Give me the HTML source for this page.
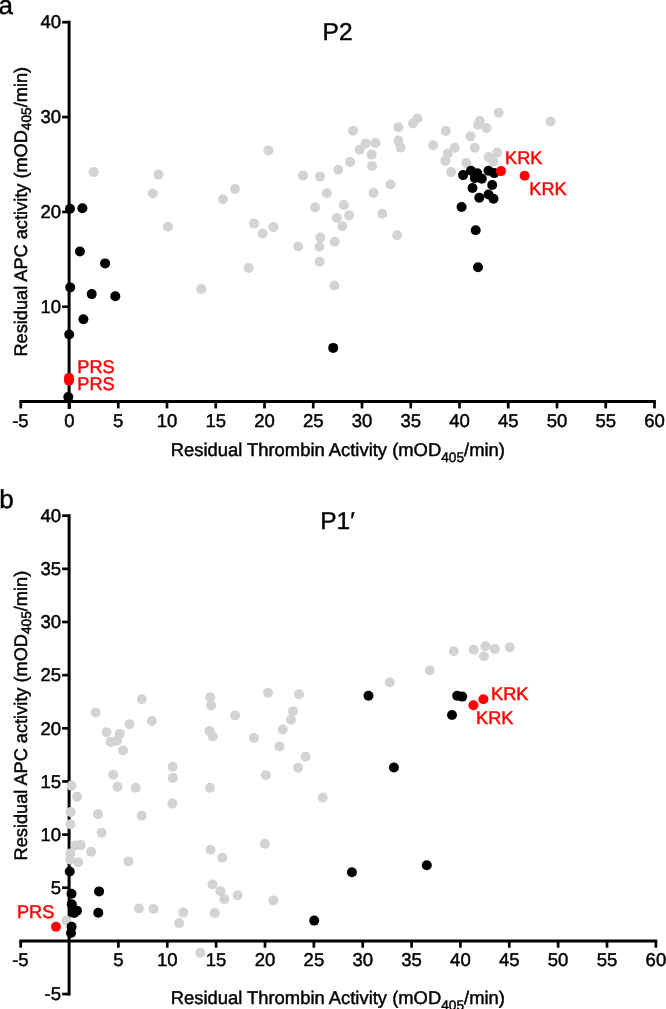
<!DOCTYPE html>
<html><head><meta charset="utf-8"><title>Figure</title>
<style>
html,body{margin:0;padding:0;background:#fff}
svg{display:block;will-change:transform}
text{font-family:"Liberation Sans",sans-serif;fill:#000;stroke:#000;stroke-width:0.45px;text-rendering:geometricPrecision}
.tk{font-size:18.5px}
.lab{font-size:18.4px}
.pt{font-size:18.2px;fill:#ff0000;stroke:#ff0000}
.ti{font-size:24.5px}
.pn{font-size:26px}
.ax{stroke:#000;stroke-width:3.0;fill:none;stroke-linecap:butt}
.t{stroke:#000;stroke-width:2.7;fill:none}
</style></head><body>
<svg width="666" height="1009" viewBox="0 0 666 1009">
<rect width="666" height="1009" fill="#fff"/>

<!-- panel a -->
<text class="pn" x="-1.4" y="14.2">a</text>
<text class="ti" x="322.6" y="39.8">P2</text>
<path class="ax" d="M69.1 20.85V409.0"/>
<path class="ax" d="M19.4 401.6H655.85"/>
<path class="t" d="M62.1 306.75H69.1"/>
<text class="tk" text-anchor="end" x="61" y="312.9">10</text>
<path class="t" d="M62.1 211.9H69.1"/>
<text class="tk" text-anchor="end" x="61" y="218.1">20</text>
<path class="t" d="M62.1 117.05H69.1"/>
<text class="tk" text-anchor="end" x="61" y="123.3">30</text>
<path class="t" d="M62.1 22.2H69.1"/>
<text class="tk" text-anchor="end" x="61" y="28.4">40</text>
<path class="t" d="M20.75 401.6V408.4"/>
<text class="tk" text-anchor="middle" x="20.4" y="426.6">-5</text>
<path class="t" d="M69.5 401.6V408.4"/>
<text class="tk" text-anchor="middle" x="69.5" y="426.6">0</text>
<path class="t" d="M118.25 401.6V408.4"/>
<text class="tk" text-anchor="middle" x="118.2" y="426.6">5</text>
<path class="t" d="M167.0 401.6V408.4"/>
<text class="tk" text-anchor="middle" x="167.0" y="426.6">10</text>
<path class="t" d="M215.75 401.6V408.4"/>
<text class="tk" text-anchor="middle" x="215.8" y="426.6">15</text>
<path class="t" d="M264.5 401.6V408.4"/>
<text class="tk" text-anchor="middle" x="264.5" y="426.6">20</text>
<path class="t" d="M313.25 401.6V408.4"/>
<text class="tk" text-anchor="middle" x="313.2" y="426.6">25</text>
<path class="t" d="M362.0 401.6V408.4"/>
<text class="tk" text-anchor="middle" x="362.0" y="426.6">30</text>
<path class="t" d="M410.75 401.6V408.4"/>
<text class="tk" text-anchor="middle" x="410.8" y="426.6">35</text>
<path class="t" d="M459.5 401.6V408.4"/>
<text class="tk" text-anchor="middle" x="459.5" y="426.6">40</text>
<path class="t" d="M508.25 401.6V408.4"/>
<text class="tk" text-anchor="middle" x="508.2" y="426.6">45</text>
<path class="t" d="M557.0 401.6V408.4"/>
<text class="tk" text-anchor="middle" x="557.0" y="426.6">50</text>
<path class="t" d="M605.75 401.6V408.4"/>
<text class="tk" text-anchor="middle" x="605.8" y="426.6">55</text>
<path class="t" d="M654.5 401.6V408.4"/>
<text class="tk" text-anchor="middle" x="654.5" y="426.6">60</text>
<text class="lab" text-anchor="middle" x="337.8" y="456.4">Residual Thrombin Activity (mOD<tspan font-size="13.7" dy="5.8">405</tspan><tspan dy="-5.8">/min)</tspan></text>
<text class="lab" style="font-size:18.2px" text-anchor="middle" transform="translate(27.3 211.7) rotate(-90)">Residual APC activity (mOD<tspan font-size="13.7" dy="3.9">405</tspan><tspan dy="-3.9">/min)</tspan></text>
<circle cx="93.6" cy="172.1" r="5.0" fill="#d3d3d3"/>
<circle cx="158.5" cy="174.6" r="5.0" fill="#d3d3d3"/>
<circle cx="152.7" cy="193.5" r="5.0" fill="#d3d3d3"/>
<circle cx="223" cy="199.3" r="5.0" fill="#d3d3d3"/>
<circle cx="167.9" cy="226.8" r="5.0" fill="#d3d3d3"/>
<circle cx="201.3" cy="288.9" r="5.0" fill="#d3d3d3"/>
<circle cx="353.1" cy="130.7" r="5.0" fill="#d3d3d3"/>
<circle cx="365.8" cy="143.4" r="5.0" fill="#d3d3d3"/>
<circle cx="375.5" cy="142.9" r="5.0" fill="#d3d3d3"/>
<circle cx="359.6" cy="149.7" r="5.0" fill="#d3d3d3"/>
<circle cx="371.6" cy="154.6" r="5.0" fill="#d3d3d3"/>
<circle cx="372.1" cy="165.9" r="5.0" fill="#d3d3d3"/>
<circle cx="350.1" cy="161.9" r="5.0" fill="#d3d3d3"/>
<circle cx="338.2" cy="169.8" r="5.0" fill="#d3d3d3"/>
<circle cx="268.4" cy="150.4" r="5.0" fill="#d3d3d3"/>
<circle cx="303" cy="175.6" r="5.0" fill="#d3d3d3"/>
<circle cx="320" cy="176.6" r="5.0" fill="#d3d3d3"/>
<circle cx="326.7" cy="193.3" r="5.0" fill="#d3d3d3"/>
<circle cx="235" cy="189.0" r="5.0" fill="#d3d3d3"/>
<circle cx="315.2" cy="207.2" r="5.0" fill="#d3d3d3"/>
<circle cx="343.9" cy="205.0" r="5.0" fill="#d3d3d3"/>
<circle cx="349.1" cy="215.2" r="5.0" fill="#d3d3d3"/>
<circle cx="336.9" cy="217.9" r="5.0" fill="#d3d3d3"/>
<circle cx="342.3" cy="226.3" r="5.0" fill="#d3d3d3"/>
<circle cx="373.6" cy="193.0" r="5.0" fill="#d3d3d3"/>
<circle cx="382.3" cy="213.7" r="5.0" fill="#d3d3d3"/>
<circle cx="390.5" cy="184.5" r="5.0" fill="#d3d3d3"/>
<circle cx="254" cy="223.6" r="5.0" fill="#d3d3d3"/>
<circle cx="273.4" cy="227.1" r="5.0" fill="#d3d3d3"/>
<circle cx="262.6" cy="233.5" r="5.0" fill="#d3d3d3"/>
<circle cx="298.3" cy="246.5" r="5.0" fill="#d3d3d3"/>
<circle cx="320.2" cy="237.5" r="5.0" fill="#d3d3d3"/>
<circle cx="319.5" cy="246.7" r="5.0" fill="#d3d3d3"/>
<circle cx="334.7" cy="241.8" r="5.0" fill="#d3d3d3"/>
<circle cx="319.7" cy="261.7" r="5.0" fill="#d3d3d3"/>
<circle cx="248.7" cy="267.9" r="5.0" fill="#d3d3d3"/>
<circle cx="334.4" cy="285.6" r="5.0" fill="#d3d3d3"/>
<circle cx="397.2" cy="235.3" r="5.0" fill="#d3d3d3"/>
<circle cx="417.4" cy="118.5" r="5.0" fill="#d3d3d3"/>
<circle cx="413" cy="123.5" r="5.0" fill="#d3d3d3"/>
<circle cx="398.3" cy="127.3" r="5.0" fill="#d3d3d3"/>
<circle cx="398.3" cy="140.6" r="5.0" fill="#d3d3d3"/>
<circle cx="400.7" cy="147.6" r="5.0" fill="#d3d3d3"/>
<circle cx="433.2" cy="145.2" r="5.0" fill="#d3d3d3"/>
<circle cx="445.9" cy="131.0" r="5.0" fill="#d3d3d3"/>
<circle cx="454.8" cy="147.7" r="5.0" fill="#d3d3d3"/>
<circle cx="447.9" cy="153.4" r="5.0" fill="#d3d3d3"/>
<circle cx="445.4" cy="160.9" r="5.0" fill="#d3d3d3"/>
<circle cx="451.1" cy="172.1" r="5.0" fill="#d3d3d3"/>
<circle cx="470.5" cy="136.4" r="5.0" fill="#d3d3d3"/>
<circle cx="474.8" cy="147.7" r="5.0" fill="#d3d3d3"/>
<circle cx="466.3" cy="163.1" r="5.0" fill="#d3d3d3"/>
<circle cx="479.8" cy="121.0" r="5.0" fill="#d3d3d3"/>
<circle cx="478" cy="124.7" r="5.0" fill="#d3d3d3"/>
<circle cx="486.5" cy="128.0" r="5.0" fill="#d3d3d3"/>
<circle cx="498.7" cy="112.8" r="5.0" fill="#d3d3d3"/>
<circle cx="497.2" cy="152.6" r="5.0" fill="#d3d3d3"/>
<circle cx="488.5" cy="157.1" r="5.0" fill="#d3d3d3"/>
<circle cx="493.5" cy="161.4" r="5.0" fill="#d3d3d3"/>
<circle cx="550.5" cy="121.5" r="5.0" fill="#d3d3d3"/>
<circle cx="70" cy="208.7" r="5.0" fill="#000"/>
<circle cx="82.4" cy="208.2" r="5.0" fill="#000"/>
<circle cx="79.9" cy="251.5" r="5.0" fill="#000"/>
<circle cx="105.1" cy="263.4" r="5.0" fill="#000"/>
<circle cx="70.2" cy="287.4" r="5.0" fill="#000"/>
<circle cx="91.7" cy="294.1" r="5.0" fill="#000"/>
<circle cx="115.3" cy="296.3" r="5.0" fill="#000"/>
<circle cx="83.4" cy="319.3" r="5.0" fill="#000"/>
<circle cx="69.2" cy="334.5" r="5.0" fill="#000"/>
<circle cx="333.2" cy="347.9" r="5.0" fill="#000"/>
<circle cx="475.7" cy="230.3" r="5.0" fill="#000"/>
<circle cx="478" cy="267.2" r="5.0" fill="#000"/>
<circle cx="68.3" cy="397.1" r="5.0" fill="#000"/>
<circle cx="463.1" cy="175.1" r="5.0" fill="#000"/>
<circle cx="471" cy="170.8" r="5.0" fill="#000"/>
<circle cx="477.3" cy="173.3" r="5.0" fill="#000"/>
<circle cx="474.8" cy="178.1" r="5.0" fill="#000"/>
<circle cx="481.8" cy="178.8" r="5.0" fill="#000"/>
<circle cx="488.5" cy="170.8" r="5.0" fill="#000"/>
<circle cx="494.2" cy="173.1" r="5.0" fill="#000"/>
<circle cx="492.2" cy="185.0" r="5.0" fill="#000"/>
<circle cx="472.5" cy="188.0" r="5.0" fill="#000"/>
<circle cx="479.3" cy="197.8" r="5.0" fill="#000"/>
<circle cx="488.5" cy="194.5" r="5.0" fill="#000"/>
<circle cx="493.5" cy="198.8" r="5.0" fill="#000"/>
<circle cx="461.6" cy="207.0" r="5.0" fill="#000"/>
<circle cx="69" cy="377.7" r="5.0" fill="#ff0000"/>
<circle cx="69" cy="380.6" r="5.0" fill="#ff0000"/>
<circle cx="501" cy="171.1" r="5.0" fill="#ff0000"/>
<circle cx="524.6" cy="175.8" r="5.0" fill="#ff0000"/>
<text class="pt" x="505.1" y="163.8">KRK</text>
<text class="pt" x="529.3" y="195.2">KRK</text>
<text class="pt" x="77.3" y="372.7">PRS</text>
<text class="pt" x="77.3" y="389.7">PRS</text>
<!-- panel b -->
<text class="pn" x="-0.7" y="508">b</text>
<text class="ti" x="320.2" y="529.1">P1′</text>
<path class="ax" d="M69.1 514.35V995.4"/>
<path class="ax" d="M19.34 940.9H657.22"/>
<path class="t" d="M62.1 994.05H69.1"/>
<text class="tk" text-anchor="end" x="61" y="1000.2">-5</text>
<path class="t" d="M62.1 887.75H69.1"/>
<text class="tk" text-anchor="end" x="61" y="894.0">5</text>
<path class="t" d="M62.1 834.6H69.1"/>
<text class="tk" text-anchor="end" x="61" y="840.8">10</text>
<path class="t" d="M62.1 781.45H69.1"/>
<text class="tk" text-anchor="end" x="61" y="787.6">15</text>
<path class="t" d="M62.1 728.3H69.1"/>
<text class="tk" text-anchor="end" x="61" y="734.5">20</text>
<path class="t" d="M62.1 675.15H69.1"/>
<text class="tk" text-anchor="end" x="61" y="681.4">25</text>
<path class="t" d="M62.1 622.0H69.1"/>
<text class="tk" text-anchor="end" x="61" y="628.2">30</text>
<path class="t" d="M62.1 568.85H69.1"/>
<text class="tk" text-anchor="end" x="61" y="575.0">35</text>
<path class="t" d="M62.1 515.7H69.1"/>
<text class="tk" text-anchor="end" x="61" y="521.9">40</text>
<path class="t" d="M20.69 940.9V947.7"/>
<text class="tk" text-anchor="middle" x="20.4" y="965.9">-5</text>
<path class="t" d="M118.41 940.9V947.7"/>
<text class="tk" text-anchor="middle" x="118.4" y="965.9">5</text>
<path class="t" d="M167.27 940.9V947.7"/>
<text class="tk" text-anchor="middle" x="167.3" y="965.9">10</text>
<path class="t" d="M216.13 940.9V947.7"/>
<text class="tk" text-anchor="middle" x="216.1" y="965.9">15</text>
<path class="t" d="M264.99 940.9V947.7"/>
<text class="tk" text-anchor="middle" x="265.0" y="965.9">20</text>
<path class="t" d="M313.85 940.9V947.7"/>
<text class="tk" text-anchor="middle" x="313.9" y="965.9">25</text>
<path class="t" d="M362.71 940.9V947.7"/>
<text class="tk" text-anchor="middle" x="362.7" y="965.9">30</text>
<path class="t" d="M411.57 940.9V947.7"/>
<text class="tk" text-anchor="middle" x="411.6" y="965.9">35</text>
<path class="t" d="M460.43 940.9V947.7"/>
<text class="tk" text-anchor="middle" x="460.4" y="965.9">40</text>
<path class="t" d="M509.29 940.9V947.7"/>
<text class="tk" text-anchor="middle" x="509.3" y="965.9">45</text>
<path class="t" d="M558.15 940.9V947.7"/>
<text class="tk" text-anchor="middle" x="558.1" y="965.9">50</text>
<path class="t" d="M607.01 940.9V947.7"/>
<text class="tk" text-anchor="middle" x="607.0" y="965.9">55</text>
<path class="t" d="M655.87 940.9V947.7"/>
<text class="tk" text-anchor="middle" x="655.9" y="965.9">60</text>
<text class="lab" text-anchor="middle" x="337.8" y="1004.1">Residual Thrombin Activity (mOD<tspan font-size="13.7" dy="5.8">405</tspan><tspan dy="-5.8">/min)</tspan></text>
<text class="lab" style="font-size:18.2px" text-anchor="middle" transform="translate(27.3 715.6) rotate(-90)">Residual APC activity (mOD<tspan font-size="13.7" dy="3.9">405</tspan><tspan dy="-3.9">/min)</tspan></text>
<circle cx="95.6" cy="712.5" r="5.0" fill="#d3d3d3"/>
<circle cx="141.9" cy="699.3" r="5.0" fill="#d3d3d3"/>
<circle cx="151.9" cy="721" r="5.0" fill="#d3d3d3"/>
<circle cx="129.5" cy="724.2" r="5.0" fill="#d3d3d3"/>
<circle cx="106.5" cy="732.2" r="5.0" fill="#d3d3d3"/>
<circle cx="119.8" cy="733.9" r="5.0" fill="#d3d3d3"/>
<circle cx="110.8" cy="741.9" r="5.0" fill="#d3d3d3"/>
<circle cx="117" cy="740.7" r="5.0" fill="#d3d3d3"/>
<circle cx="123" cy="750.4" r="5.0" fill="#d3d3d3"/>
<circle cx="210.2" cy="697.3" r="5.0" fill="#d3d3d3"/>
<circle cx="211.2" cy="705.5" r="5.0" fill="#d3d3d3"/>
<circle cx="209.5" cy="731" r="5.0" fill="#d3d3d3"/>
<circle cx="212.7" cy="736.4" r="5.0" fill="#d3d3d3"/>
<circle cx="235.2" cy="715.5" r="5.0" fill="#d3d3d3"/>
<circle cx="253.9" cy="737.9" r="5.0" fill="#d3d3d3"/>
<circle cx="268.1" cy="692.8" r="5.0" fill="#d3d3d3"/>
<circle cx="299" cy="694.3" r="5.0" fill="#d3d3d3"/>
<circle cx="293" cy="711.3" r="5.0" fill="#d3d3d3"/>
<circle cx="291" cy="719.7" r="5.0" fill="#d3d3d3"/>
<circle cx="282.8" cy="729.5" r="5.0" fill="#d3d3d3"/>
<circle cx="279.5" cy="746.4" r="5.0" fill="#d3d3d3"/>
<circle cx="305.7" cy="756.8" r="5.0" fill="#d3d3d3"/>
<circle cx="389.7" cy="682.3" r="5.0" fill="#d3d3d3"/>
<circle cx="429.8" cy="670.4" r="5.0" fill="#d3d3d3"/>
<circle cx="453.8" cy="651.2" r="5.0" fill="#d3d3d3"/>
<circle cx="473.7" cy="649.7" r="5.0" fill="#d3d3d3"/>
<circle cx="485.4" cy="646.2" r="5.0" fill="#d3d3d3"/>
<circle cx="494.9" cy="648.9" r="5.0" fill="#d3d3d3"/>
<circle cx="483.9" cy="656.2" r="5.0" fill="#d3d3d3"/>
<circle cx="509.8" cy="647.2" r="5.0" fill="#d3d3d3"/>
<circle cx="71.6" cy="785.6" r="5.0" fill="#d3d3d3"/>
<circle cx="77.2" cy="796.7" r="5.0" fill="#d3d3d3"/>
<circle cx="70.6" cy="812" r="5.0" fill="#d3d3d3"/>
<circle cx="70.4" cy="824.3" r="5.0" fill="#d3d3d3"/>
<circle cx="98" cy="814.1" r="5.0" fill="#d3d3d3"/>
<circle cx="101.6" cy="832.8" r="5.0" fill="#d3d3d3"/>
<circle cx="75.4" cy="845.4" r="5.0" fill="#d3d3d3"/>
<circle cx="80.8" cy="845.1" r="5.0" fill="#d3d3d3"/>
<circle cx="91.1" cy="851.7" r="5.0" fill="#d3d3d3"/>
<circle cx="70.4" cy="853.5" r="5.0" fill="#d3d3d3"/>
<circle cx="70" cy="859.5" r="5.0" fill="#d3d3d3"/>
<circle cx="78.2" cy="862.3" r="5.0" fill="#d3d3d3"/>
<circle cx="113.3" cy="774.8" r="5.0" fill="#d3d3d3"/>
<circle cx="117.5" cy="786.8" r="5.0" fill="#d3d3d3"/>
<circle cx="135.7" cy="787.7" r="5.0" fill="#d3d3d3"/>
<circle cx="172.6" cy="766.7" r="5.0" fill="#d3d3d3"/>
<circle cx="172.9" cy="777.9" r="5.0" fill="#d3d3d3"/>
<circle cx="172.4" cy="803.6" r="5.0" fill="#d3d3d3"/>
<circle cx="141.7" cy="815.8" r="5.0" fill="#d3d3d3"/>
<circle cx="128.5" cy="861.4" r="5.0" fill="#d3d3d3"/>
<circle cx="298" cy="767.7" r="5.0" fill="#d3d3d3"/>
<circle cx="265.8" cy="775.2" r="5.0" fill="#d3d3d3"/>
<circle cx="210" cy="787.7" r="5.0" fill="#d3d3d3"/>
<circle cx="322.7" cy="797.6" r="5.0" fill="#d3d3d3"/>
<circle cx="264.8" cy="843.7" r="5.0" fill="#d3d3d3"/>
<circle cx="210.5" cy="849.7" r="5.0" fill="#d3d3d3"/>
<circle cx="222.2" cy="857.7" r="5.0" fill="#d3d3d3"/>
<circle cx="66.4" cy="920.5" r="5.0" fill="#d3d3d3"/>
<circle cx="138.9" cy="908.4" r="5.0" fill="#d3d3d3"/>
<circle cx="153.6" cy="908.9" r="5.0" fill="#d3d3d3"/>
<circle cx="183.3" cy="912.6" r="5.0" fill="#d3d3d3"/>
<circle cx="179.1" cy="923.1" r="5.0" fill="#d3d3d3"/>
<circle cx="212.5" cy="884.5" r="5.0" fill="#d3d3d3"/>
<circle cx="220.4" cy="891.2" r="5.0" fill="#d3d3d3"/>
<circle cx="224.4" cy="899.2" r="5.0" fill="#d3d3d3"/>
<circle cx="237.6" cy="895.2" r="5.0" fill="#d3d3d3"/>
<circle cx="214.7" cy="912.9" r="5.0" fill="#d3d3d3"/>
<circle cx="273.3" cy="900.4" r="5.0" fill="#d3d3d3"/>
<circle cx="200.3" cy="952.8" r="5.0" fill="#d3d3d3"/>
<circle cx="368.5" cy="695.8" r="5.0" fill="#000"/>
<circle cx="457.2" cy="695.8" r="5.0" fill="#000"/>
<circle cx="462.2" cy="696.6" r="5.0" fill="#000"/>
<circle cx="452" cy="715" r="5.0" fill="#000"/>
<circle cx="69.7" cy="871.5" r="5.0" fill="#000"/>
<circle cx="351.9" cy="872.3" r="5.0" fill="#000"/>
<circle cx="393.9" cy="767.5" r="5.0" fill="#000"/>
<circle cx="426.8" cy="865.2" r="5.0" fill="#000"/>
<circle cx="314.2" cy="920.6" r="5.0" fill="#000"/>
<circle cx="71.5" cy="893.7" r="5.0" fill="#000"/>
<circle cx="99.1" cy="891.4" r="5.0" fill="#000"/>
<circle cx="71.8" cy="904.2" r="5.0" fill="#000"/>
<circle cx="77" cy="910.8" r="5.0" fill="#000"/>
<circle cx="74.2" cy="913" r="5.0" fill="#000"/>
<circle cx="98.3" cy="912.8" r="5.0" fill="#000"/>
<circle cx="71.6" cy="926.8" r="5.0" fill="#000"/>
<circle cx="71" cy="933" r="5.0" fill="#000"/>
<circle cx="483.4" cy="699.3" r="5.0" fill="#ff0000"/>
<circle cx="473.4" cy="705.3" r="5.0" fill="#ff0000"/>
<circle cx="56" cy="926.8" r="5.0" fill="#ff0000"/>
<text class="pt" x="491" y="700">KRK</text>
<text class="pt" x="476" y="723.9">KRK</text>
<text class="pt" x="16.9" y="917.8">PRS</text>
</svg></body></html>
